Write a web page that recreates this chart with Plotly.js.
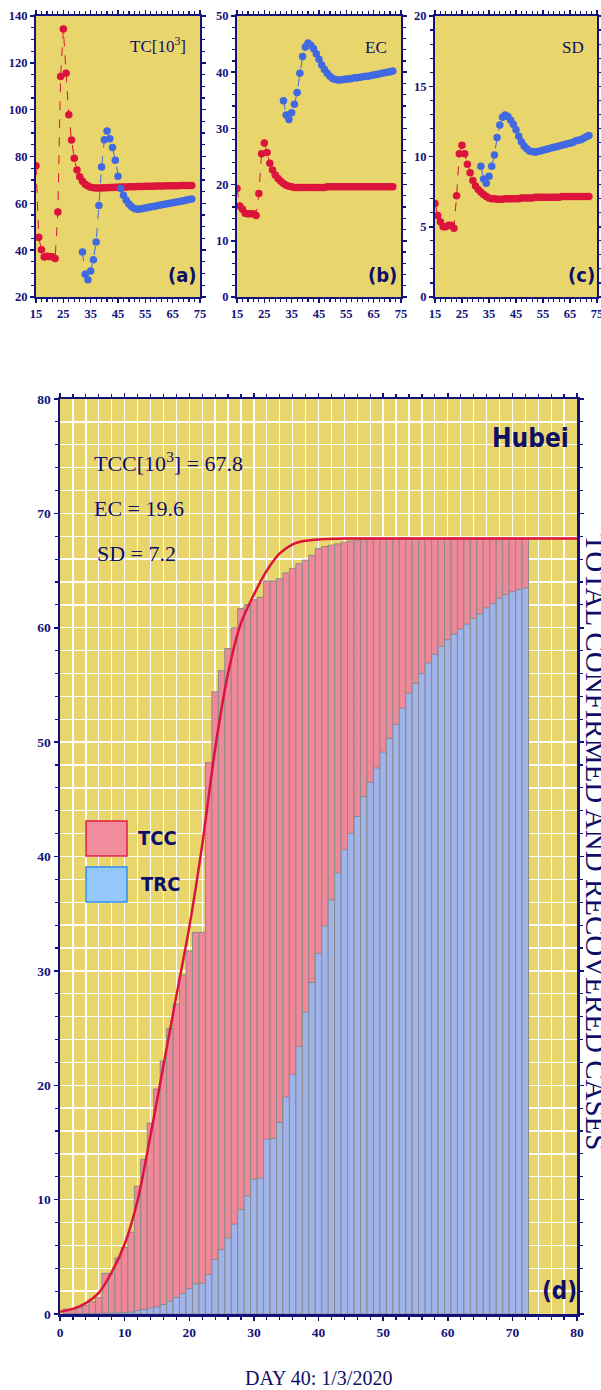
<!DOCTYPE html>
<html><head><meta charset="utf-8">
<script src="https://cdn.plot.ly/plotly-3.0.1.min.js"></script>
<style>body{margin:0;background:#fff}#chart{width:601px;height:1390px}</style>
</head><body><div id="chart"></div>
<script>
// ---------------- data ----------------
// main panel (d): cumulative cases per day, thousands
const tcc = [0.44,0.44,0.55,0.76,1.06,1.42,3.55,3.55,4.90,5.81,7.15,11.18,13.52,16.68,19.67,22.11,24.95,27.10,29.63,31.73,33.37,33.37,48.21,54.41,56.25,58.18,59.99,61.68,62.03,62.44,62.66,64.08,64.08,64.29,64.79,65.19,65.60,65.91,66.34,66.91,67.10,67.22,67.33,67.47,67.59,67.67,67.71,67.74,67.76,67.77,67.78,67.79,67.79,67.79,67.80,67.80,67.80,67.80,67.80,67.80,67.80,67.80,67.80,67.80,67.80,67.80,67.80,67.80,67.80,67.80,67.80,67.80];
const trc = [0.03,0.03,0.03,0.03,0.04,0.05,0.08,0.09,0.09,0.14,0.17,0.30,0.39,0.52,0.63,0.82,1.12,1.44,1.80,2.22,2.64,2.69,3.46,4.77,5.62,6.64,7.86,9.13,10.34,11.79,11.88,15.30,15.34,16.75,18.97,20.97,23.38,26.40,28.99,31.54,33.93,36.21,38.56,40.59,42.03,43.50,45.24,46.49,47.74,49.13,50.32,51.55,52.96,54.29,55.14,56.00,56.93,57.68,58.38,58.95,59.43,59.88,60.32,60.81,61.20,61.73,62.10,62.57,62.89,63.15,63.33,63.47];
const days = tcc.map((_, i) => i + 1);
// fitted curve (d)
const fitX = [0,2,4,6,8,10,12,14,16,18,20,22,24,26,28,30,32,34,36,38,40,44,50,80];
const fitY = [0.2,0.45,0.95,1.85,3.65,6.1,9.9,15.6,21.7,27.8,33.8,41.0,49.4,56.0,60.4,62.9,65.0,66.5,67.3,67.6,67.72,67.8,67.8,67.8];

// panel (a) TC [10^3]
const tcRed = [76.0,45.5,40.2,37.1,37.4,37.3,37.2,36.4,56.3,114.2,134.5,115.5,97.8,87.0,79.2,74.2,71.3,69.4,68.2,67.4,66.9,66.7,66.6,66.6,66.6,66.7,66.7,66.8,66.8,66.9,66.9,67.0,67.0,67.0,67.1,67.1,67.1,67.2,67.2,67.2,67.3,67.3,67.3,67.3,67.4,67.4,67.4,67.4,67.5,67.5,67.5,67.5,67.5,67.6,67.6,67.6,67.6,67.6];
const tcBlue = [39.2,29.7,27.4,31.1,35.9,43.5,59.1,75.5,87.2,90.9,87.6,83.8,78.4,71.6,66.3,63.4,61.3,59.7,58.5,57.8,57.5,57.6,57.8,58.0,58.2,58.5,58.7,58.9,59.2,59.4,59.6,59.8,60.0,60.3,60.5,60.7,60.9,61.1,61.4,61.6,61.9];
// panel (b) EC
const ecRed = [19.3,16.2,15.6,14.9,14.8,14.8,14.8,14.5,18.4,25.5,27.4,25.7,23.8,22.6,21.7,21.1,20.6,20.2,19.9,19.7,19.6,19.5,19.5,19.5,19.5,19.5,19.5,19.5,19.5,19.5,19.5,19.5,19.5,19.6,19.6,19.6,19.6,19.6,19.6,19.6,19.6,19.6,19.6,19.6,19.6,19.6,19.6,19.6,19.6,19.6,19.6,19.6,19.6,19.6,19.6,19.6,19.6,19.6];
const ecBlue = [34.9,32.4,31.6,32.8,34.3,36.4,39.8,42.8,44.5,45.2,44.8,44.2,43.3,42.3,41.3,40.5,39.8,39.3,38.9,38.7,38.6,38.6,38.7,38.8,38.8,38.9,39.0,39.0,39.1,39.2,39.3,39.3,39.4,39.5,39.6,39.7,39.8,39.9,40.0,40.1,40.2];
// panel (c) SD
const sdRed = [6.65,5.8,5.35,5.0,5.0,5.1,5.1,4.9,7.2,10.2,10.8,10.2,9.45,8.85,8.3,7.9,7.65,7.45,7.3,7.15,7.05,7.0,7.0,6.95,6.95,6.95,7.0,7.0,7.0,7.0,7.0,7.0,7.05,7.05,7.05,7.05,7.05,7.1,7.1,7.1,7.1,7.1,7.1,7.1,7.1,7.1,7.1,7.15,7.15,7.15,7.15,7.15,7.15,7.15,7.15,7.15,7.15,7.15];
const sdBlue = [9.3,8.4,8.1,8.6,9.3,10.1,11.35,12.25,12.8,12.95,12.85,12.6,12.3,11.9,11.45,11.05,10.75,10.55,10.4,10.35,10.3,10.35,10.4,10.45,10.5,10.55,10.6,10.65,10.7,10.75,10.8,10.85,10.9,10.95,11.0,11.1,11.15,11.2,11.3,11.4,11.5];
const redStartDay = 15, blueStartDay = 32;

// ---------------- styling ----------------
const W = 601, H = 1390;
const fx = p => p / W, fy = p => 1 - p / H;
const NAVY = '#12127a';
const TXT = '#0e0e66';
const YEL = '#E8D56C';
const RED = '#DC143C';
const BLUE = '#4169E1';
const PINK = '#EF899A';
const LBLUE = '#A0B4EC';
const serif = 'Liberation Serif, Times New Roman, serif';
const narrow = 'Liberation Sans Narrow, DejaVu Sans Condensed, Arial Narrow, sans-serif';
const tickFont = {family: serif, size: 12.5, color: NAVY, weight: 'bold'};

function mainAxis(domain, range, dtick, mdtick, anchor, lw, extra) {
  return Object.assign({
    domain, range, anchor, dtick, tick0: range[0], ticks: 'outside', ticklen: 4, tickwidth: 1.5, tickcolor: NAVY,
    showline: true, linecolor: NAVY, linewidth: lw, mirror: 'ticks', showgrid: false, zeroline: false,
    tickfont: tickFont, fixedrange: true, ticklabeloverflow: 'allow',
    minor: {dtick: mdtick, tick0: range[0], ticks: 'outside', ticklen: 3, tickwidth: 1.2, tickcolor: NAVY, showgrid: false}
  }, extra || {});
}
function ovAxis(range, dtick, mdtick, overlay, anchor, lw) {
  return {
    overlaying: overlay, anchor, range, dtick, tick0: range[0], ticks: 'inside', ticklen: 4, tickwidth: 1.5, tickcolor: NAVY,
    showline: true, linecolor: NAVY, linewidth: lw, mirror: 'ticks', showgrid: false, zeroline: false,
    showticklabels: false, fixedrange: true,
    minor: {dtick: mdtick, tick0: range[0], ticks: 'inside', ticklen: 3, tickwidth: 1.2, tickcolor: NAVY, showgrid: false}
  };
}

const panels = [
  {px: [36, 200], yr: [20, 140], ydt: 20, ymin: 5, red: tcRed, blue: tcBlue},
  {px: [237, 401], yr: [0, 50], ydt: 10, ymin: 2, red: ecRed, blue: ecBlue},
  {px: [435, 597], yr: [0, 20], ydt: 5, ymin: 1, red: sdRed, blue: sdBlue}
];
const panelY = [16, 297];

const layout = {
  width: W, height: H, autosize: false, margin: {l: 0, r: 0, t: 0, b: 0},
  paper_bgcolor: '#ffffff', plot_bgcolor: YEL, showlegend: false, barmode: 'overlay', bargap: 0,
  shapes: [], annotations: []
};
const data = [];

panels.forEach((p, i) => {
  const n = i + 1, s = n === 1 ? '' : String(n), o = String(n + 4);
  layout['xaxis' + s] = mainAxis([fx(p.px[0]), fx(p.px[1])], [15, 75], 10, 2, 'y' + s, 2);
  layout['yaxis' + s] = mainAxis([fy(panelY[1]), fy(panelY[0])], p.yr, p.ydt, p.ymin, 'x' + s, 2);
  layout['xaxis' + o] = ovAxis([15, 75], 10, 2, 'x' + s, 'y' + s, 2);
  layout['yaxis' + o] = ovAxis(p.yr, p.ydt, p.ymin, 'y' + s, 'x' + s, 2);
  data.push({type: 'scatter', mode: 'lines+markers', x: p.red.map((_, k) => redStartDay + k), y: p.red,
    xaxis: 'x' + s, yaxis: 'y' + s, line: {color: RED, width: 1, dash: 'dash'}, marker: {color: RED, size: 7.5}});
  data.push({type: 'scatter', mode: 'lines+markers', x: p.blue.map((_, k) => blueStartDay + k), y: p.blue,
    xaxis: 'x' + s, yaxis: 'y' + s, line: {color: BLUE, width: 1, dash: 'dash'}, marker: {color: BLUE, size: 7.5}});
});

// main panel (d)
const gridExtra = {showgrid: true, gridcolor: '#ffffff', gridwidth: 1.3};
layout.xaxis4 = mainAxis([fx(60), fx(577)], [0, 80], 10, 2, 'y4', 2.5, gridExtra);
layout.yaxis4 = mainAxis([fy(1314), fy(399)], [0, 80], 10, 2, 'x4', 2.5, gridExtra);
layout.xaxis4.minor.showgrid = true; layout.xaxis4.minor.gridcolor = '#ffffff'; layout.xaxis4.minor.gridwidth = 1.3;
layout.yaxis4.minor.showgrid = true; layout.yaxis4.minor.gridcolor = '#ffffff'; layout.yaxis4.minor.gridwidth = 1.3;
layout.xaxis4.tickfont = Object.assign({}, tickFont, {size: 13.5});
layout.yaxis4.tickfont = Object.assign({}, tickFont, {size: 13.5});
layout.xaxis8 = ovAxis([0, 80], 10, 2, 'x4', 'y4', 2.5);
layout.yaxis8 = ovAxis([0, 80], 10, 2, 'y4', 'x4', 2.5);

data.push({type: 'bar', x: days, y: tcc, width: 1, xaxis: 'x4', yaxis: 'y4',
  marker: {color: PINK, line: {color: '#8a8a8a', width: 1}}});
data.push({type: 'bar', x: days, y: trc, width: 1, xaxis: 'x4', yaxis: 'y4',
  marker: {color: LBLUE, line: {color: '#8a8a8a', width: 1}}});
data.push({type: 'scatter', mode: 'lines', x: fitX, y: fitY, xaxis: 'x4', yaxis: 'y4',
  line: {color: RED, width: 2.5, shape: 'spline', smoothing: 0.8}});

// legend boxes
layout.shapes.push({type: 'rect', xref: 'paper', yref: 'paper', x0: fx(86), x1: fx(127), y0: fy(856), y1: fy(821),
  fillcolor: '#F08C9C', line: {color: '#E0203C', width: 1.5}});
layout.shapes.push({type: 'rect', xref: 'paper', yref: 'paper', x0: fx(86), x1: fx(127), y0: fy(902), y1: fy(867),
  fillcolor: '#94C8FA', line: {color: '#2E8EEA', width: 1.5}});

function ann(text, x, y, xanchor, font, extra) {
  layout.annotations.push(Object.assign({text, xref: 'paper', yref: 'paper', x: fx(x), y: fy(y), xanchor, yanchor: 'middle',
    showarrow: false, font}, extra || {}));
}
const boldSans = (sz) => ({family: narrow, size: sz, color: TXT, weight: 'bold'});
const ser = (sz) => ({family: serif, size: sz, color: TXT});

ann('TC[10<sup>3</sup>]', 188, 45, 'right', ser(17));
ann('EC', 389, 47, 'right', ser(17));
ann('SD', 586, 47, 'right', ser(17));
ann('(a)', 182, 275, 'center', boldSans(20));
ann('(b)', 382, 275, 'center', boldSans(20));
ann('(c)', 581, 275, 'center', boldSans(20));
ann('Hubei', 571, 438, 'right', boldSans(26));
ann('TCC[10<sup>3</sup>] = 67.8', 92, 462, 'left', ser(22));
ann('EC = 19.6', 92, 508, 'left', ser(22));
ann('SD = 7.2', 95, 553, 'left', ser(22));
ann('TCC', 136, 838, 'left', boldSans(20));
ann('TRC', 139, 884, 'left', boldSans(20));
ann('(d)', 559, 1291, 'center', boldSans(24));
ann('DAY 40: 1/3/2020', 318, 1378, 'center', ser(20));
ann('TOTAL CONFIRMED AND RECOVERED CASES', 596, 842, 'center', ser(29), {textangle: 90});

Plotly.newPlot('chart', data, layout, {staticPlot: true, displayModeBar: false});
</script></body></html>
